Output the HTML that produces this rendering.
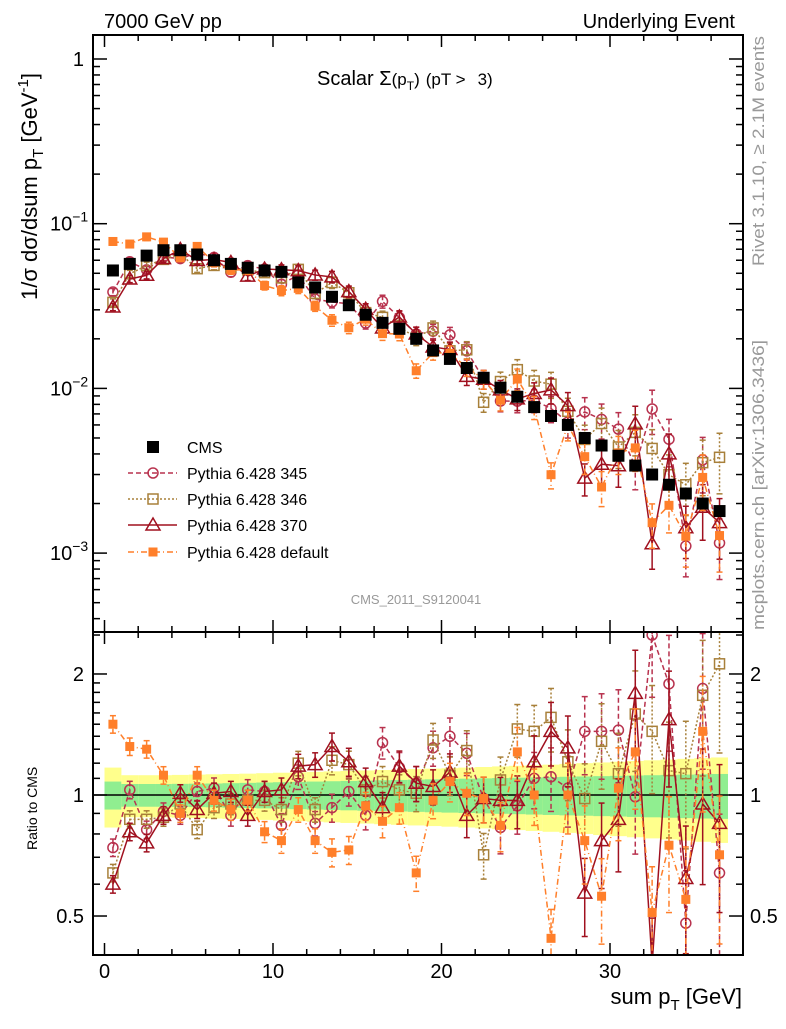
<!DOCTYPE html>
<html><head><meta charset="utf-8"><style>
body{margin:0;background:#fff;}
svg text{font-family:"Liberation Sans",sans-serif;}
</style></head><body>
<svg id="chart" width="786" height="1024" xmlns="http://www.w3.org/2000/svg"></svg>
<script>
const xCenters=[0.5,1.5,2.5,3.5,4.5,5.5,6.5,7.5,8.5,9.5,10.5,11.5,12.5,13.5,14.5,15.5,16.5,17.5,18.5,19.5,20.5,21.5,22.5,23.5,24.5,25.5,26.5,27.5,28.5,29.5,30.5,31.5,32.5,33.5,34.5,35.5,36.5];
const cmsValues=[0.052,0.057,0.064,0.069,0.069,0.065,0.060,0.057,0.054,0.052,0.051,0.044,0.041,0.036,0.032,0.028,0.025,0.023,0.020,0.017,0.0151,0.0133,0.0116,0.0101,0.0089,0.0077,0.0068,0.0060,0.0050,0.0045,0.0039,0.0034,0.0030,0.0026,0.0023,0.0020,0.0018];
const ratio345=[0.74,1.03,0.82,0.91,0.89,1.02,1.04,0.89,1.03,1.02,0.84,1.11,0.85,0.93,1.02,0.89,1.35,1.17,1.07,1.31,1.40,1.27,0.98,0.83,0.94,1.10,1.11,1.04,1.44,1.44,1.45,0.99,2.5,1.89,0.48,1.84,0.64];
const ratio346=[0.64,0.87,0.87,0.88,0.95,0.82,0.93,0.95,0.97,0.97,0.92,1.20,0.92,1.22,1.19,1.03,1.08,1.03,1.01,1.37,1.12,1.29,0.71,1.09,1.46,1.44,1.56,1.21,0.98,1.36,1.13,1.59,1.44,1.15,1.13,1.77,2.12];
const ratio370=[0.60,0.81,0.76,0.89,1.01,0.92,1.01,1.02,0.89,1.02,1.03,1.18,1.19,1.32,1.21,1.08,0.93,1.18,1.07,1.05,1.14,0.89,0.98,0.97,0.97,1.21,1.44,1.31,0.57,0.77,0.87,1.79,0.38,1.54,0.62,0.95,0.85];
const ratioDefault=[1.50,1.32,1.30,1.12,0.90,1.12,0.97,0.92,0.97,0.81,0.77,0.92,0.77,0.72,0.73,0.94,0.86,0.93,0.64,0.97,1.08,1.01,0.98,0.84,1.28,1.00,0.44,1.00,0.77,0.56,1.04,1.28,0.51,0.75,0.55,1.44,0.71];
const relErr=[0.05,0.05,0.05,0.05,0.05,0.05,0.06,0.06,0.06,0.06,0.07,0.07,0.07,0.08,0.08,0.08,0.09,0.09,0.1,0.1,0.11,0.12,0.13,0.14,0.15,0.16,0.18,0.2,0.22,0.24,0.26,0.28,0.3,0.32,0.35,0.37,0.4];
const bandStat=[0.08,0.065,0.065,0.065,0.066,0.067,0.068,0.07,0.072,0.074,0.076,0.078,0.08,0.082,0.084,0.086,0.088,0.09,0.092,0.094,0.096,0.098,0.1,0.102,0.104,0.106,0.108,0.11,0.112,0.114,0.116,0.118,0.12,0.122,0.124,0.126,0.128];
const bandTot=[0.17,0.12,0.12,0.12,0.122,0.124,0.126,0.128,0.13,0.133,0.136,0.139,0.142,0.145,0.148,0.151,0.154,0.157,0.16,0.163,0.166,0.17,0.174,0.178,0.182,0.186,0.19,0.195,0.2,0.205,0.21,0.215,0.22,0.225,0.23,0.235,0.24];
const xTicks=[0,10,20,30];

const NS="http://www.w3.org/2000/svg";
const svg=document.getElementById('chart');
const L=93,R=743,T1=35,B1=632,B2=955;
const X=v=>104.5+16.85*v;
const Y1=v=>59-164.7*Math.log10(v);
const Y2=r=>795-402*Math.log10(r);
function el(tag,attrs,parent){const e=document.createElementNS(NS,tag);for(const k in attrs)e.setAttribute(k,attrs[k]);(parent||svg).appendChild(e);return e;}
function txt(s,attrs,parent){const t=el('text',attrs,parent);t.textContent=s;return t;}

const series=[
 {name:'345',r:ratio345,color:'#b8324e',dash:'5,3',marker:'circle',label:'Pythia 6.428 345'},
 {name:'346',r:ratio346,color:'#a8803a',dash:'2,2',marker:'osquare',label:'Pythia 6.428 346'},
 {name:'370',r:ratio370,color:'#a0101f',dash:'',marker:'triangle',label:'Pythia 6.428 370'},
 {name:'default',r:ratioDefault,color:'#ff7f2a',dash:'6,3,1,3',marker:'fsquare',label:'Pythia 6.428 default'}
];
function marker(g,type,x,y,color){
 if(type==='circle')return el('circle',{cx:x,cy:y,r:5,fill:'none',stroke:color,'stroke-width':1.5},g);
 if(type==='osquare')return el('rect',{x:x-5,y:y-5,width:10,height:10,fill:'none',stroke:color,'stroke-width':1.5},g);
 if(type==='triangle')return el('polygon',{points:`${x},${y-7} ${x-7},${y+5} ${x+7},${y+5}`,fill:'none',stroke:color,'stroke-width':1.5},g);
 if(type==='fsquare')return el('rect',{x:x-4.5,y:y-4.5,width:9,height:9,fill:color},g);
 return el('rect',{x:x-6,y:y-6,width:12,height:12,fill:'#000'},g);
}
el('defs',{}).innerHTML='<clipPath id="c1"><rect x="93" y="35" width="650" height="597"/></clipPath><clipPath id="c2"><rect x="93" y="632" width="650" height="323"/></clipPath>';

const bands=el('g',{'clip-path':'url(#c2)'});


xCenters.forEach((c,i)=>{
 el('rect',{x:X(c-0.5),y:Y2(1+bandTot[i]),width:16.9,height:Y2(1-bandTot[i])-Y2(1+bandTot[i]),fill:'#ffff8c'},bands);
 el('rect',{x:X(c-0.5),y:Y2(1+bandStat[i]),width:16.9,height:Y2(1-bandStat[i])-Y2(1+bandStat[i]),fill:'#90ee90'},bands);
});
el('line',{x1:L,x2:R,y1:Y2(1),y2:Y2(1),stroke:'#000','stroke-width':1.5});

series.forEach(s=>{
 const gTop=el('g',{'clip-path':'url(#c1)'});
 
 
 const gBot=el('g',{'clip-path':'url(#c2)'});
 
 
 const ptsT=[],ptsB=[];
 xCenters.forEach((c,i)=>{
  const v=cmsValues[i]*s.r[i],x=X(c);
  ptsT.push(x+','+Y1(v));ptsB.push(x+','+Y2(s.r[i]));
 });
 el('polyline',{points:ptsT.join(' '),fill:'none',stroke:s.color,'stroke-width':1.5,'stroke-dasharray':s.dash},gTop);
 el('polyline',{points:ptsB.join(' '),fill:'none',stroke:s.color,'stroke-width':1.5,'stroke-dasharray':s.dash},gBot);
 xCenters.forEach((c,i)=>{
  const v=cmsValues[i]*s.r[i],x=X(c),e=relErr[i];
  [[gTop,Y1(v*(1+e)),Y1(Math.max(v*(1-e),1e-5))],[gBot,Y2(s.r[i]*(1+e)),Y2(Math.max(s.r[i]*(1-e),0.05))]].forEach(([g,a,b])=>{
   el('line',{x1:x,x2:x,y1:a,y2:b,stroke:s.color,'stroke-width':1.5,'stroke-dasharray':s.dash},g);
   el('line',{x1:x-3,x2:x+3,y1:a,y2:a,stroke:s.color,'stroke-width':1.5},g);
   el('line',{x1:x-3,x2:x+3,y1:b,y2:b,stroke:s.color,'stroke-width':1.5},g);
  });
  const m1=marker(gTop,s.marker,x,Y1(v),s.color);
  
  
  marker(gBot,s.marker,x,Y2(s.r[i]),s.color);
 });
});
const gC=el('g',{'clip-path':'url(#c1)'});


xCenters.forEach((c,i)=>{
 const m=marker(gC,'cms',X(c),Y1(cmsValues[i]));
 
 
});

el('rect',{x:L,y:T1,width:R-L,height:B1-T1,fill:'none',stroke:'#000','stroke-width':2});
el('rect',{x:L,y:B1,width:R-L,height:B2-B1,fill:'none',stroke:'#000','stroke-width':2});
for(let v=0;v<=36;v+=2){
 const major=v%10===0,len=major?12:6,x=X(v);
 [B1,B2].forEach(b=>{el('line',{x1:x,x2:x,y1:b,y2:b-len,stroke:'#000','stroke-width':1.5});});
 [T1,B1].forEach(t=>{el('line',{x1:x,x2:x,y1:t,y2:t+len,stroke:'#000','stroke-width':1.5});});
}
xTicks.forEach(v=>{
 const t=txt(String(v),{x:X(v),y:978,'font-size':20,'text-anchor':'middle'});
 
 
});
for(let d=-4;d<=0;d++){
 for(let m=1;m<=9;m++){
  const v=m*Math.pow(10,d),y=Y1(v);
  if(y<T1||y>B1)continue;
  const len=m===1?14:7;
  el('line',{x1:L,x2:L+len,y1:y,y2:y,stroke:'#000','stroke-width':1.5});
  el('line',{x1:R,x2:R-len,y1:y,y2:y,stroke:'#000','stroke-width':1.5});
 }
}
const yl=[[1,'1',''],[0.1,'10','−1'],[0.01,'10','−2'],[0.001,'10','−3']];
yl.forEach(([v,b,e])=>{
 const t=el('text',{x:e?50:84,y:Y1(v)+7,'font-size':20,'text-anchor':e?'start':'end'});
 
 
 t.textContent=b;
 if(e){const s=el('tspan',{dy:-9,'font-size':14},t);s.textContent=e;}
});
[0.4,0.5,0.6,0.7,0.8,0.9,1,1.1,1.2,1.3,1.4,1.5,1.6,1.7,1.8,1.9,2,2.5].forEach(r=>{
 const y=Y2(r),len=(r===0.5||r===1||r===2)?14:7;
 el('line',{x1:L,x2:L+len,y1:y,y2:y,stroke:'#000','stroke-width':1.5});
 el('line',{x1:R,x2:R-len,y1:y,y2:y,stroke:'#000','stroke-width':1.5});
});
[[0.5,'0.5'],[1,'1'],[2,'2']].forEach(([r,s])=>{
 const a=txt(s,{x:84,y:Y2(r)+7,'font-size':20,'text-anchor':'end'});
 
 
 const b=txt(s,{x:750,y:Y2(r)+7,'font-size':20});
 
 
});

let t;
t=txt('7000 GeV pp',{x:104,y:28,'font-size':20});

t=txt('Underlying Event',{x:735,y:28,'font-size':20,'text-anchor':'end'});

t=el('text',{x:317,y:85,'font-size':20});

t.innerHTML='Scalar Σ<tspan font-size="17">(p</tspan><tspan font-size="12" dy="5">T</tspan><tspan font-size="17" dy="-5">)</tspan><tspan font-size="17" dx="6">(pT &gt;</tspan><tspan font-size="17" dx="12">3)</tspan>';
t=el('text',{transform:'translate(37,300) rotate(-90)','font-size':22});

t.innerHTML='1/σ dσ/dsum p<tspan font-size="15" dy="6">T</tspan><tspan dy="-6">  [GeV</tspan><tspan font-size="15" dy="-9">-1</tspan><tspan dy="9">]</tspan>';
t=txt('Ratio to CMS',{transform:'translate(37,850) rotate(-90)','font-size':14});

t=el('text',{x:742,y:1004,'font-size':22,'text-anchor':'end'});

t.innerHTML='sum p<tspan font-size="15" dy="6">T</tspan><tspan dy="-6"> [GeV]</tspan>';
t=txt('Rivet 3.1.10, ≥ 2.1M events',{transform:'translate(764,266) rotate(-90)','font-size':17,fill:'#999',textLength:230,lengthAdjust:'spacingAndGlyphs'});

t=txt('mcplots.cern.ch [arXiv:1306.3436]',{transform:'translate(764,630) rotate(-90)','font-size':17,fill:'#999',textLength:290,lengthAdjust:'spacingAndGlyphs'});

t=txt('CMS_2011_S9120041',{x:416,y:604,'font-size':13,fill:'#999','text-anchor':'middle'});


const lg=el('g',{});


const ly=[447,473,499,525,552];
marker(lg,'cms',153,ly[0]);
t=txt('CMS',{x:187,y:ly[0]+6,'font-size':16},lg);

series.forEach((s,i)=>{
 const y=ly[i+1];
 el('line',{x1:128,x2:177,y1:y,y2:y,stroke:s.color,'stroke-width':1.5,'stroke-dasharray':s.dash},lg);
 marker(lg,s.marker,153,y,s.color);
 const tt=txt(s.label,{x:187,y:y+6,'font-size':16},lg);
 
 
});
</script>
</body></html>
